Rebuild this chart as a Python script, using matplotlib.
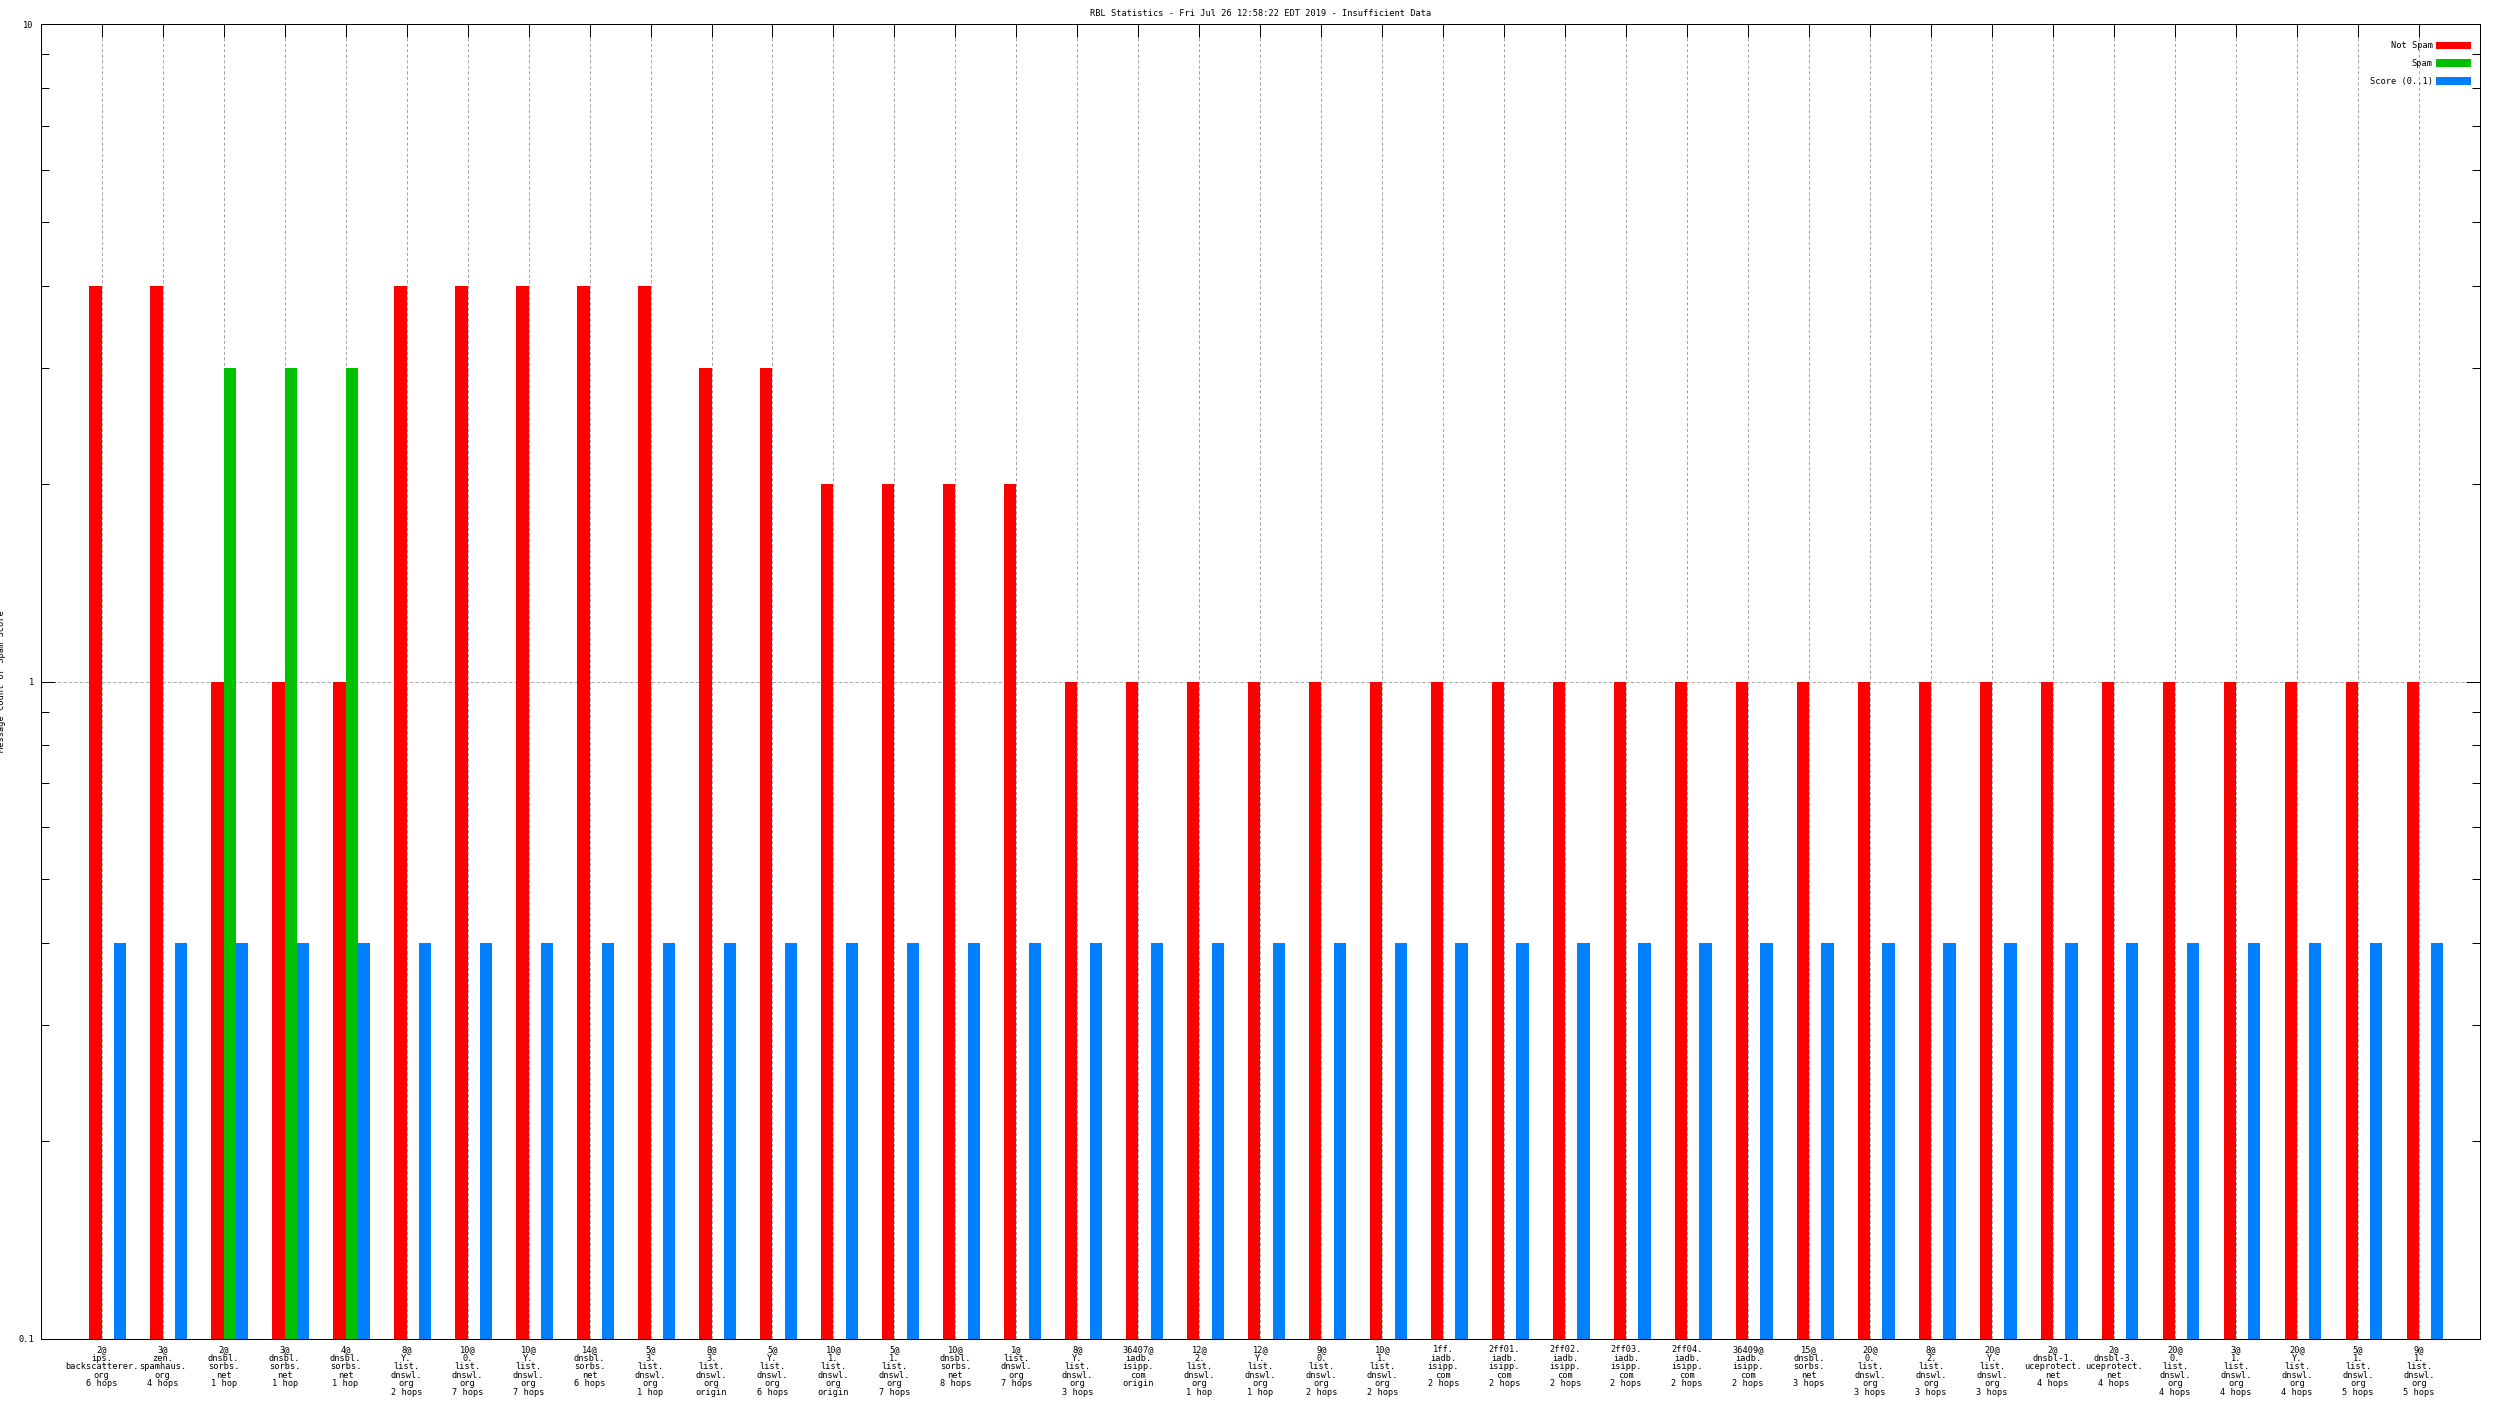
import matplotlib
matplotlib.use("Agg")
import matplotlib.pyplot as plt
from matplotlib.ticker import FixedLocator, FixedFormatter, LogLocator, NullFormatter
import numpy as np


TITLE = "RBL Statistics - Fri Jul 26 12:58:22 EDT 2019 - Insufficient Data"

# one entry per RBL check, bottom labels
GROUP_LABELS = [
    "2@\nips.\nbackscatterer.\norg\n6 hops",
    "3@\nzen.\nspamhaus.\norg\n4 hops",
    "2@\ndnsbl.\nsorbs.\nnet\n1 hop",
    "3@\ndnsbl.\nsorbs.\nnet\n1 hop",
    "4@\ndnsbl.\nsorbs.\nnet\n1 hop",
    "8@\nY.\nlist.\ndnswl.\norg\n2 hops",
    "10@\n0.\nlist.\ndnswl.\norg\n7 hops",
    "10@\nY.\nlist.\ndnswl.\norg\n7 hops",
    "14@\ndnsbl.\nsorbs.\nnet\n6 hops",
    "5@\n3.\nlist.\ndnswl.\norg\n1 hop",
    "8@\n3.\nlist.\ndnswl.\norg\norigin",
    "5@\nY.\nlist.\ndnswl.\norg\n6 hops",
    "10@\n1.\nlist.\ndnswl.\norg\norigin",
    "5@\n1.\nlist.\ndnswl.\norg\n7 hops",
    "10@\ndnsbl.\nsorbs.\nnet\n8 hops",
    "1@\nlist.\ndnswl.\norg\n7 hops",
    "8@\nY.\nlist.\ndnswl.\norg\n3 hops",
    "36407@\niadb.\nisipp.\ncom\norigin",
    "12@\n2.\nlist.\ndnswl.\norg\n1 hop",
    "12@\nY.\nlist.\ndnswl.\norg\n1 hop",
    "9@\n0.\nlist.\ndnswl.\norg\n2 hops",
    "10@\n1.\nlist.\ndnswl.\norg\n2 hops",
    "1ff.\niadb.\nisipp.\ncom\n2 hops",
    "2ff01.\niadb.\nisipp.\ncom\n2 hops",
    "2ff02.\niadb.\nisipp.\ncom\n2 hops",
    "2ff03.\niadb.\nisipp.\ncom\n2 hops",
    "2ff04.\niadb.\nisipp.\ncom\n2 hops",
    "36409@\niadb.\nisipp.\ncom\n2 hops",
    "15@\ndnsbl.\nsorbs.\nnet\n3 hops",
    "20@\n0.\nlist.\ndnswl.\norg\n3 hops",
    "8@\n2.\nlist.\ndnswl.\norg\n3 hops",
    "20@\nY.\nlist.\ndnswl.\norg\n3 hops",
    "2@\ndnsbl-1.\nuceprotect.\nnet\n4 hops",
    "2@\ndnsbl-3.\nuceprotect.\nnet\n4 hops",
    "20@\n0.\nlist.\ndnswl.\norg\n4 hops",
    "3@\n1.\nlist.\ndnswl.\norg\n4 hops",
    "20@\nY.\nlist.\ndnswl.\norg\n4 hops",
    "5@\n1.\nlist.\ndnswl.\norg\n5 hops",
    "9@\n1.\nlist.\ndnswl.\norg\n5 hops",
]

NOT_SPAM = [4, 4, 1, 1, 1, 4, 4, 4, 4, 4, 3, 3, 2, 2, 2, 2,
            1, 1, 1, 1, 1, 1, 1, 1, 1, 1, 1, 1, 1, 1, 1, 1,
            1, 1, 1, 1, 1, 1, 1]
SPAM = [0, 0, 3, 3, 3, 0, 0, 0, 0, 0, 0, 0, 0, 0, 0, 0,
        0, 0, 0, 0, 0, 0, 0, 0, 0, 0, 0, 0, 0, 0, 0, 0,
        0, 0, 0, 0, 0, 0, 0]
SCORE = [0.4] * len(GROUP_LABELS)

SERIES_NAMES = ["Not Spam", "Spam", "Score (0..1)"]
COLORS = ["#ff0000", "#00c000", "#0080ff"]

FONT = "DejaVu Sans Mono"
FS = 6.2
PX = 0.72  # one pixel in points at dpi 100


def main():
    plt.rcParams["font.family"] = FONT
    plt.rcParams["font.size"] = FS

    fig = plt.figure(figsize=(24.96, 14.04), dpi=100)
    ax = fig.add_axes([40.7 / 2496, 1 - 1339 / 1404,
                       (2480 - 40.7) / 2496, (1339 - 24) / 1404])

    x = np.arange(len(GROUP_LABELS))
    width = 0.2
    offsets = [-0.1, 0.1, 0.3]
    handles = []
    for vals, off, color, name in zip([NOT_SPAM, SPAM, SCORE], offsets, COLORS, SERIES_NAMES):
        vals = np.array(vals, dtype=float)
        keep = vals > 0
        h = ax.bar(x[keep] + off, vals[keep], width, color=color,
                   linewidth=0, label=name, zorder=2)
        handles.append(h)

    ax.set_yscale("log")
    ax.set_ylim(0.1, 10)
    ax.set_xlim(-1, len(GROUP_LABELS))

    ax.yaxis.set_major_locator(FixedLocator([0.1, 1, 10]))
    ax.yaxis.set_major_formatter(FixedFormatter(["0.1", "1", "10"]))
    ax.yaxis.set_minor_locator(LogLocator(base=10, subs=np.arange(2, 10)))
    ax.yaxis.set_minor_formatter(NullFormatter())

    ax.set_xticks(x)
    ax.set_xticklabels(GROUP_LABELS, linespacing=0.93, multialignment="center")

    ax.tick_params(axis="y", which="major", direction="in", length=14 * PX,
                   width=PX, left=True, right=True, pad=5, labelsize=FS)
    ax.tick_params(axis="y", which="minor", direction="in", length=7.7 * PX,
                   width=PX, left=True, right=True)
    ax.tick_params(axis="x", which="major", direction="in", length=13 * PX,
                   width=PX, top=True, bottom=False, pad=4.5, labelsize=FS)

    for s in ax.spines.values():
        s.set_linewidth(PX)
        s.set_zorder(3)

    ax.set_axisbelow(True)
    grid_style = dict(color="#a8a8a8", linewidth=PX, linestyle=(0, (3.3, 2.2)))
    ax.xaxis.grid(True, **grid_style)
    ax.yaxis.grid(True, which="major", **grid_style)

    ax.set_title(TITLE, fontsize=FS, pad=6)
    ax.set_ylabel("Message Count or Spam Score", fontsize=FS)
    ax.yaxis.set_label_coords(-(40.7 - 6.3) / (2480 - 40.7), 0.5)

    ax.legend(handles=handles, loc="upper right", frameon=False, markerfirst=False,
              bbox_to_anchor=(2471 / 2496, 1 - 41.5 / 1404),
              bbox_transform=fig.transFigure, borderpad=0, borderaxespad=0,
              handlelength=4.05, handleheight=1.0, handletextpad=0.4,
              labelspacing=1.0, fontsize=FS)

    fig.savefig("out.png", dpi=100)
    plt.close(fig)


if __name__ == "__main__":
    main()
